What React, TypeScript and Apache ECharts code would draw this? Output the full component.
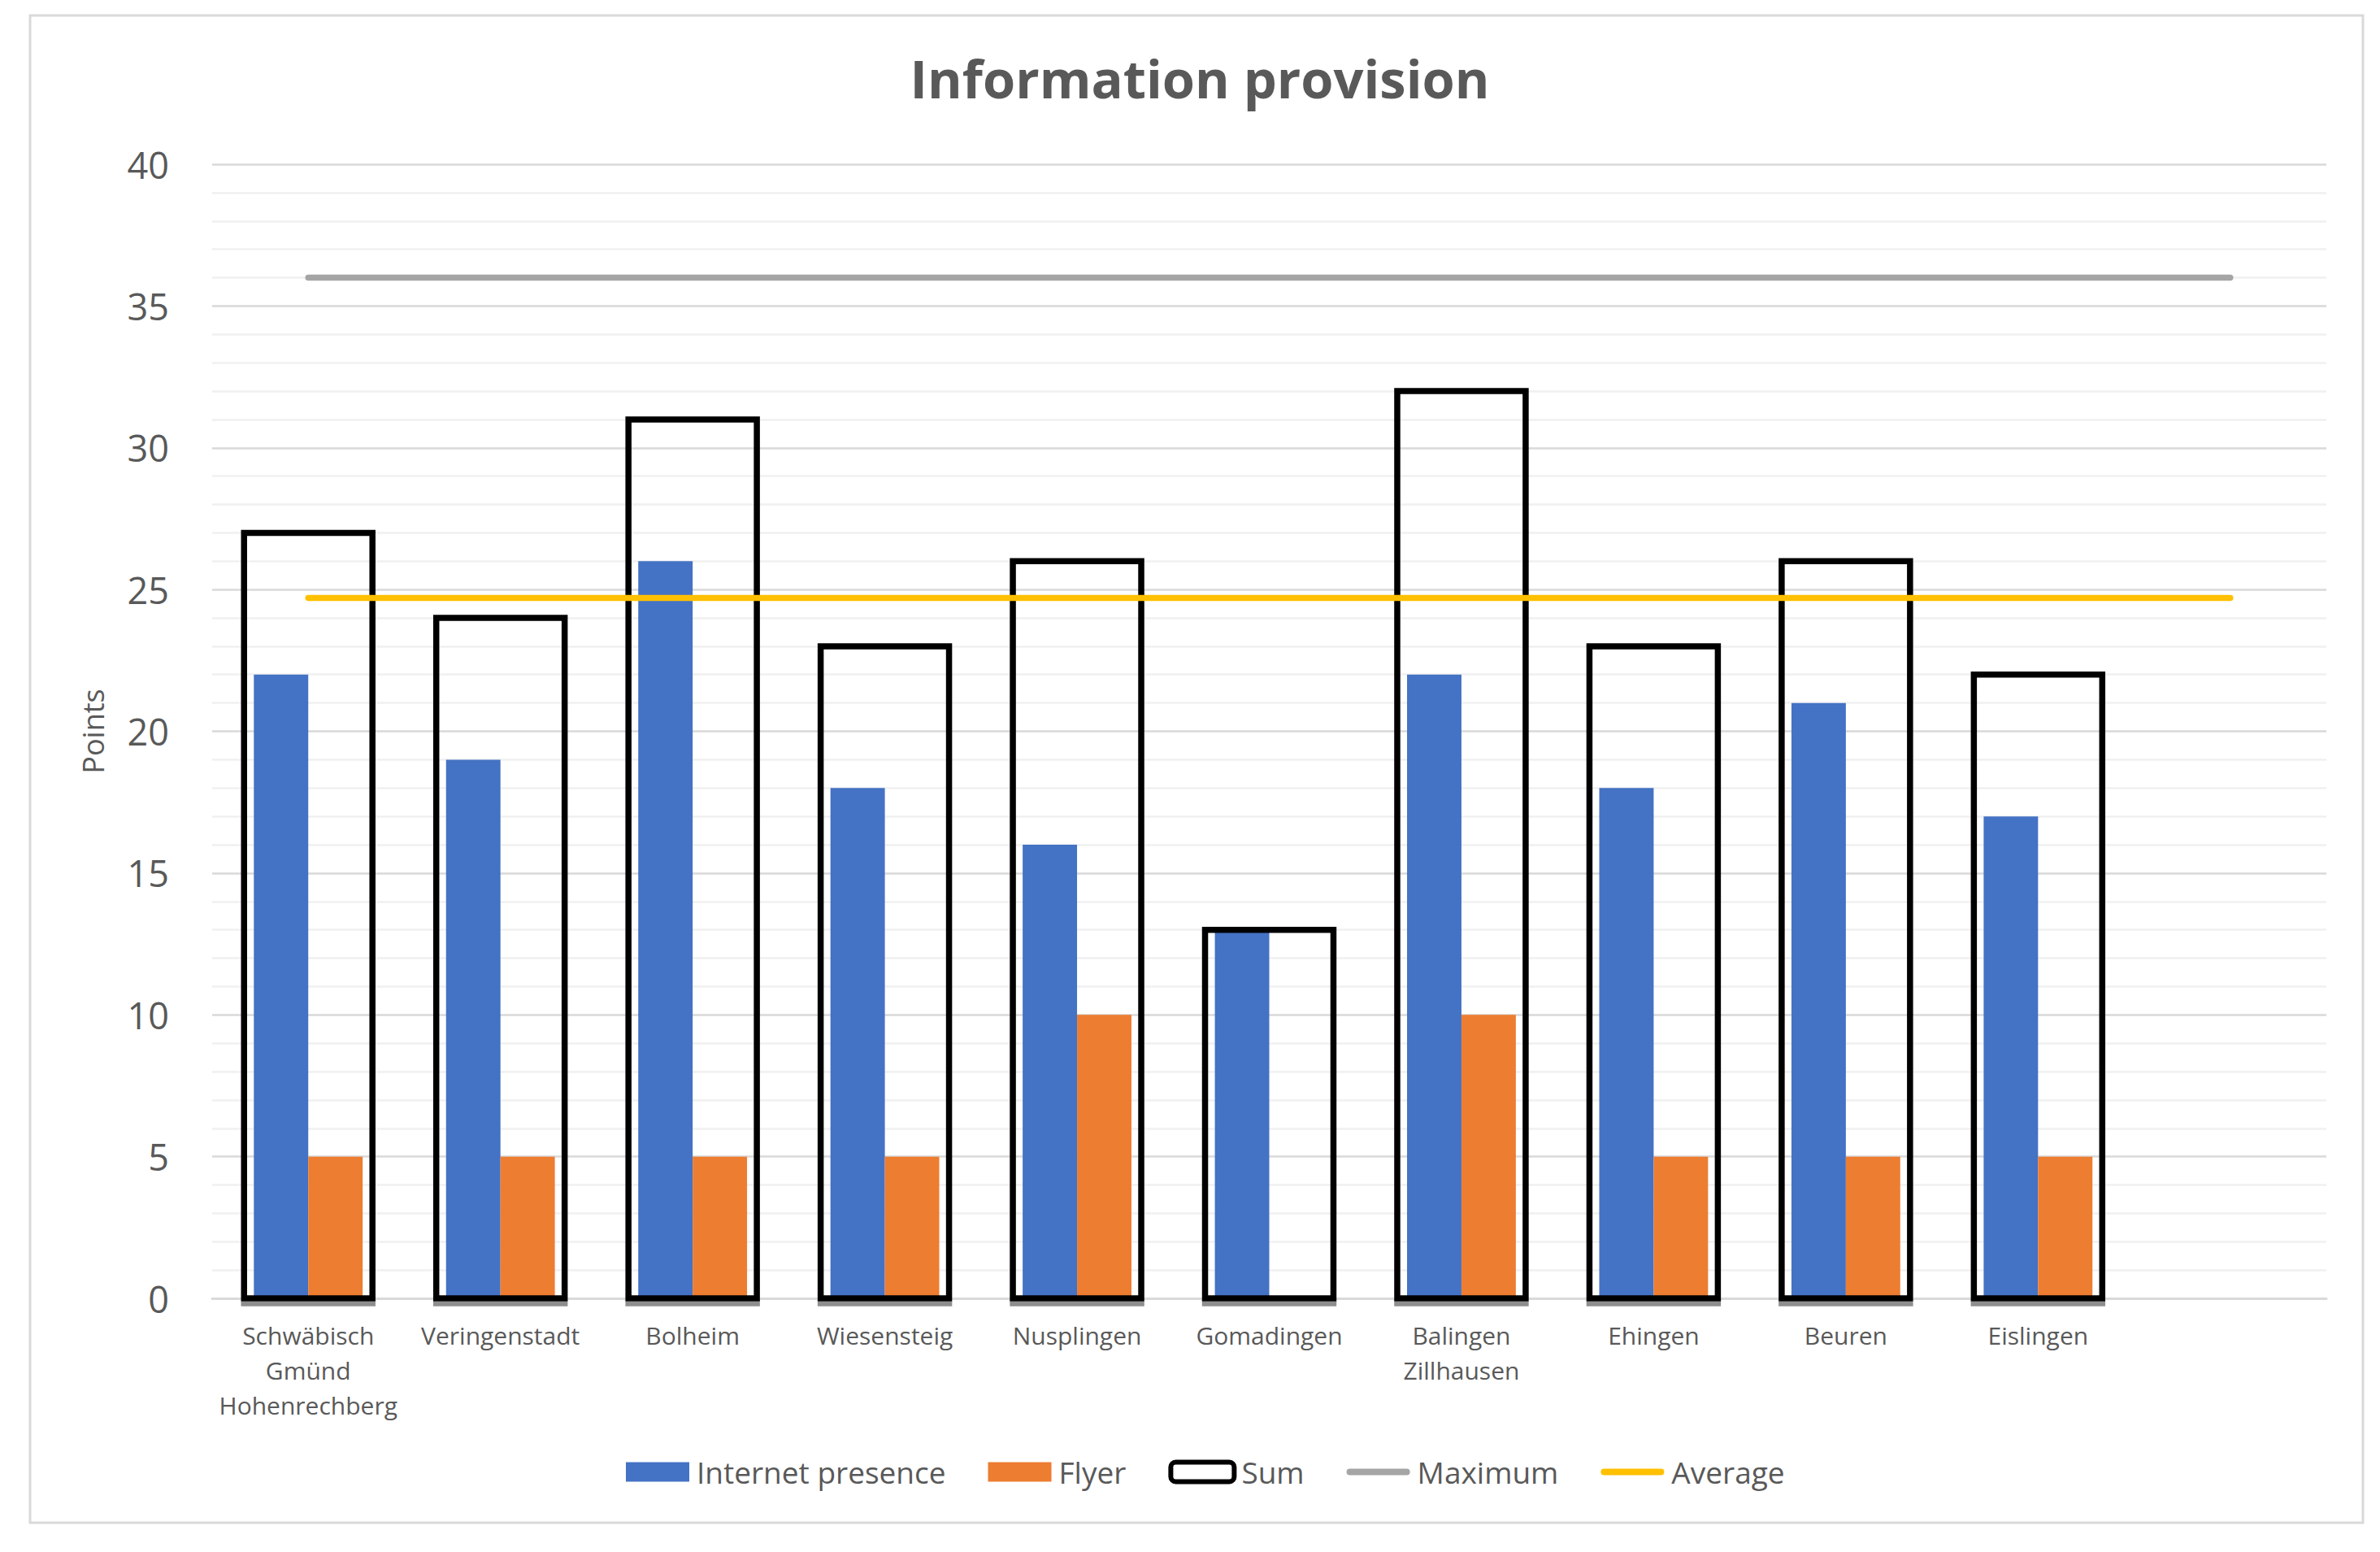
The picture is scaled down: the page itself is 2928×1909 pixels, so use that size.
import React, { useEffect, useRef } from "react";
import * as echarts from "echarts";

const categories = [
  "Schwäbisch\nGmünd\nHohenrechberg",
  "Veringenstadt",
  "Bolheim",
  "Wiesensteig",
  "Nusplingen",
  "Gomadingen",
  "Balingen\nZillhausen",
  "Ehingen",
  "Beuren",
  "Eislingen",
  "",
];
const internetPresence = [22, 19, 26, 18, 16, 13, 22, 18, 21, 17, null];
const flyer = [5, 5, 5, 5, 10, 0, 10, 5, 5, 5, null];
const sumValues = [27, 24, 31, 23, 26, 13, 32, 23, 26, 22];
const maximum = [36, 36, 36, 36, 36, 36, 36, 36, 36, 36, 36];
const average = [24.7, 24.7, 24.7, 24.7, 24.7, 24.7, 24.7, 24.7, 24.7, 24.7, 24.7];
const yTicks = { min: 0, max: 40, interval: 5 };

const FONT = "'Open Sans', 'Noto Sans', sans-serif";
const TEXT = "#595959";
const LINE_ICON = "path://M4,0 L74,0 A4,4 0 0 1 74,8 L4,8 A4,4 0 0 1 4,0 Z";

export default function App() {
  const ref = useRef<HTMLDivElement>(null);
  useEffect(() => {
    if (!ref.current) return;
    const chart = echarts.init(ref.current, null, { renderer: "svg" });
    const SUM_LW = 7.5;
    chart.setOption({
      animation: false,
      backgroundColor: "#ffffff",
      textStyle: { fontFamily: FONT },
      graphic: [
        {
          type: "rect",
          z: -10,
          silent: true,
          shape: { x: 37, y: 19, width: 2870, height: 1854 },
          style: { fill: "none", stroke: "#d9d9d9", lineWidth: 3 },
        },
      ],
      title: {
        text: "Information provision",
        left: 1471,
        textAlign: "center",
        top: 58,
        textStyle: { fontFamily: FONT, fontSize: 65, fontWeight: "bold", color: TEXT },
      },
      legend: {
        left: 765,
        top: 1787,
        itemWidth: 78,
        itemHeight: 24,
        itemGap: 52,
        symbolKeepAspect: true,
        textStyle: { fontFamily: FONT, fontSize: 37, color: TEXT, padding: [0, 0, 0, 4] },
        data: [
          { name: "Internet presence", icon: "rect" },
          { name: "Flyer", icon: "rect" },
          {
            name: "Sum",
            icon: "roundRect",
            itemStyle: { color: "#ffffff", borderColor: "#000000", borderWidth: 6 },
          },
          { name: "Maximum", icon: LINE_ICON, itemStyle: { color: "#a5a5a5" } },
          { name: "Average", icon: LINE_ICON, itemStyle: { color: "#ffc000" } },
        ],
      },
      grid: { left: 261, right: 66, top: 202, bottom: 312, containLabel: false },
      xAxis: {
        type: "category",
        data: categories,
        boundaryGap: true,
        axisLine: { show: true, lineStyle: { color: "#d9d9d9", width: 3 } },
        axisTick: { show: false },
        axisLabel: {
          interval: 0,
          fontFamily: FONT,
          fontSize: 30,
          color: TEXT,
          lineHeight: 43,
          margin: 24,
        },
      },
      yAxis: {
        type: "value",
        min: yTicks.min,
        max: yTicks.max,
        interval: yTicks.interval,
        name: "Points",
        nameLocation: "middle",
        nameRotate: 90,
        nameGap: 129,
        nameTextStyle: { fontFamily: FONT, fontSize: 36, color: TEXT },
        axisLine: { show: false },
        axisTick: { show: false },
        axisLabel: { fontFamily: FONT, fontSize: 45, color: TEXT, margin: 53 },
        splitLine: { show: true, lineStyle: { color: "#d9d9d9", width: 2.5 } },
        minorTick: { show: false, splitNumber: 5 },
        minorSplitLine: { show: true, lineStyle: { color: "#f0f0f0", width: 2.5 } },
      },
      series: [
        {
          name: "Internet presence",
          type: "bar",
          data: internetPresence,
          barWidth: "28.3%",
          barGap: "0%",
          itemStyle: { color: "#4472c4" },
          z: 2,
        },
        {
          name: "Flyer",
          type: "bar",
          data: flyer,
          barWidth: "28.3%",
          barGap: "0%",
          itemStyle: { color: "#ed7d31" },
          z: 2,
        },
        {
          name: "Sum",
          type: "custom",
          z: 3,
          itemStyle: { color: "#ffffff", borderColor: "#000000", borderWidth: 6 },
          encode: { x: 0, y: 1 },
          data: sumValues.map((v, i) => [i, v]),
          renderItem: (params: any, api: any) => {
            const idx = api.value(0);
            const v = api.value(1);
            const top = api.coord([idx, v]);
            const base = api.coord([idx, 0]);
            const band = api.size([1, 0])[0];
            const w = band * 0.668;
            return {
              type: "group",
              children: [
                {
                  type: "rect",
                  shape: {
                    x: base[0] - w / 2 - SUM_LW / 2,
                    y: base[1] + SUM_LW / 2,
                    width: w + SUM_LW,
                    height: 6,
                  },
                  style: { fill: "#8e8e8e" },
                },
                {
                  type: "rect",
                  shape: { x: base[0] - w / 2, y: top[1], width: w, height: base[1] - top[1] },
                  style: { fill: "none", stroke: "#000000", lineWidth: SUM_LW, lineJoin: "miter" },
                },
              ],
            };
          },
        },
        {
          name: "Maximum",
          type: "line",
          data: maximum,
          symbol: "none",
          z: 4,
          lineStyle: { color: "#a5a5a5", width: 7.5, cap: "round" },
          itemStyle: { color: "#a5a5a5" },
        },
        {
          name: "Average",
          type: "line",
          data: average,
          symbol: "none",
          z: 4,
          lineStyle: { color: "#ffc000", width: 7.5, cap: "round" },
          itemStyle: { color: "#ffc000" },
        },
      ],
    });
    return () => chart.dispose();
  }, []);
  return (
    <div
      ref={ref}
      style={{ position: "fixed", left: 0, top: 0, width: "2928px", height: "1909px" }}
    />
  );
}
